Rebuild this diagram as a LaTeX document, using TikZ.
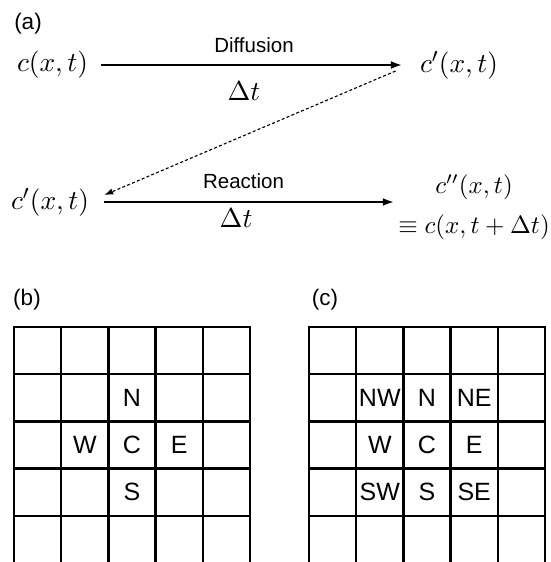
\documentclass[tikz,border=0pt]{standalone}
\usepackage{fontspec}
\newfontfamily\helv{Liberation Sans}
\usetikzlibrary{positioning,arrows.meta}

\begin{document}
\begin{tikzpicture}[x=0.4pt,y=-0.4pt,every node/.style={inner sep=0pt,align=center},
                    expr/.style={font=\fontsize{10.8}{13.5}\selectfont},
                    tag/.style={font=\helv\fontsize{9}{11}\selectfont},
                    celltag/.style={font=\helv\fontsize{10}{12}\selectfont},
                    steplabel/.style={font=\helv\fontsize{8.2}{10}\selectfont},
                    flow/.style={-{Latex[length=4.5pt,width=3.2pt]},line width=0.8pt},
                    back/.style={-{Latex[length=3.5pt,width=2.6pt]},line width=0.45pt,dash pattern=on 1.2pt off 0.9pt},
                    cellline/.style={line width=1pt,line cap=rect}]
  \useasboundingbox (0,0) rectangle (551,562);
  \node[tag] (pa) at (28,24) {(a)};
  \node[expr] (c0) at (52.5,65) {$c(x,t)$};
  \node[expr] (c1) at (459,65) {$c'(x,t)$};
  \node[expr] (c1b) at (50,202) {$c'(x,t)$};
  \node[expr,font=\fontsize{10}{16}\selectfont] (c2) at (474,207) {$c''(x,t)$\\$\equiv c(x,t+\Delta t)$};
  \draw[flow,shorten <=5pt,shorten >=7pt] (c0) -- (c1)
    node[midway,above=4.4pt,steplabel] (dif) {Diffusion}
    node[midway,below=6.5pt,xshift=-4pt,expr] (dt0) {$\Delta t$};
  \draw[flow,shorten <=6pt,shorten >=1.5pt] (c1b) -- (c1b -| c2.west)
    node[midway,above=4.8pt,steplabel] (rea) {Reaction}
    node[midway,below=2.5pt,xshift=-3pt,expr] (dt1) {$\Delta t$};
  \draw[back] ([xshift=-9.6pt,yshift=-2.4pt]c1.west) -- ([xshift=6pt,yshift=2.8pt]c1b.east);
  \node[tag] (pb) at (27,300) {(b)};
  \node[tag] (pc) at (325,300) {(c)};
  \foreach \gx in {14,309}
    \foreach \k in {0,...,5} {
      \draw[cellline] (\gx+47.2*\k,327) -- (\gx+47.2*\k,563);
      \draw[cellline] (\gx,327+47.2*\k) -- (\gx+236,327+47.2*\k);
    }
  \foreach \col/\row/\lab in {2/1/N,1/2/W,2/2/C,3/2/E,2/3/S}
    \node[celltag] (b\lab) at (14+47.2*\col+23.6,327+47.2*\row+23.6) {\lab};
  \foreach \col/\row/\lab in {1/1/NW,2/1/N,3/1/NE,1/2/W,2/2/C,3/2/E,1/3/SW,2/3/S,3/3/SE}
    \node[celltag] (c\lab) at (309+47.2*\col+23.6,327+47.2*\row+23.6) {\lab};
\end{tikzpicture}
\end{document}
